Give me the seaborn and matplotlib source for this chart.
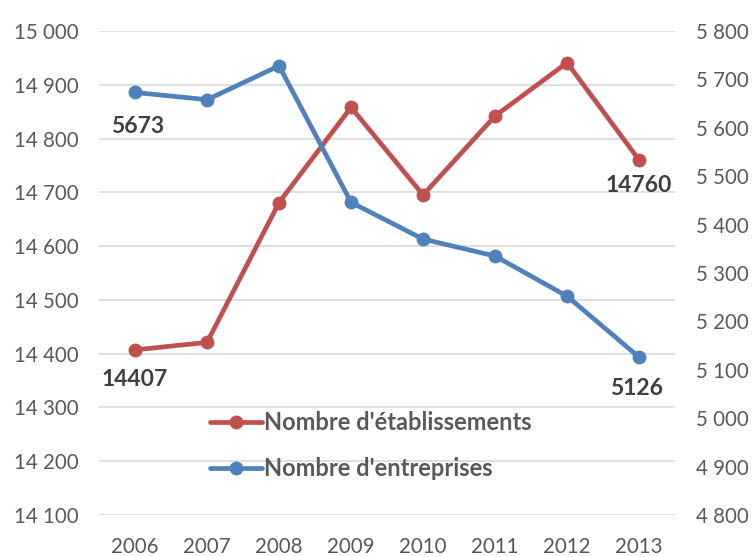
import matplotlib
matplotlib.use("Agg")
import matplotlib.pyplot as plt
import matplotlib.ticker as mticker
import seaborn as sns
import pandas as pd

years = [2006, 2007, 2008, 2009, 2010, 2011, 2012, 2013]
etablissements = [14407, 14421, 14681, 14858, 14695, 14842, 14941, 14760]
entreprises = [5673, 5658, 5728, 5446, 5370, 5335, 5252, 5126]

RED = "#C0504D"
BLUE = "#4F81BD"
GRID = "#D9D9D9"
TICK = "#595959"
LABEL = "#404040"

sns.set_theme(style="white")
plt.rcParams["font.family"] = ["Lato", "DejaVu Sans"]

df = pd.DataFrame({"idx": range(len(years)), "annee": years,
                   "etab": etablissements, "entr": entreprises})

fig = plt.figure(figsize=(7.56, 5.57), dpi=100)
ax = fig.add_axes([0.131, 0.0754, 0.762, 0.869])
ax2 = ax.twinx()

sns.lineplot(data=df, x="idx", y="etab", ax=ax, color=RED, linewidth=3.4,
             marker="o", markersize=10, markeredgewidth=0, zorder=3)
sns.lineplot(data=df, x="idx", y="entr", ax=ax2, color=BLUE, linewidth=3.4,
             marker="o", markersize=10, markeredgewidth=0, zorder=3)

ax.set_ylim(14100, 15000)
ax2.set_ylim(4800, 5800)
ax.set_xlim(-0.5, len(years) - 0.5)
ax.set_yticks(range(14100, 15001, 100))
ax2.set_yticks(range(4800, 5801, 100))

fmt = mticker.FuncFormatter(lambda v, p: f"{int(v):,}".replace(",", " "))
ax.yaxis.set_major_formatter(fmt)
ax2.yaxis.set_major_formatter(fmt)

ax.set_xticks(df["idx"])
ax.set_xticklabels(years)
for a in (ax, ax2):
    a.set_xlabel("")
    a.set_ylabel("")
    a.tick_params(length=0, labelsize=14.8, labelcolor=TICK)
    for s in a.spines.values():
        s.set_visible(False)
ax.tick_params(axis="y", pad=15)
ax2.tick_params(axis="y", pad=15)
ax.tick_params(axis="x", pad=16)
ax.grid(axis="y", color=GRID, linewidth=1.2)
ax.set_axisbelow(True)

# data labels on first and last points
lab = dict(fontsize=16.5, fontweight="bold", color=LABEL, ha="center", va="top",
           textcoords="offset points")
ax.annotate(f"{etablissements[0]}", (0, etablissements[0]), xytext=(0, -14), **lab)
ax.annotate(f"{etablissements[-1]}", (7, etablissements[-1]), xytext=(0, -11), **lab)
ax2.annotate(f"{entreprises[0]}", (0, entreprises[0]), xytext=(2, -17), **lab)
ax2.annotate(f"{entreprises[-1]}", (7, entreprises[-1]), xytext=(-2, -15), **lab)

h1 = ax.get_lines()[0]
h2 = ax2.get_lines()[0]
leg = ax2.legend([h1, h2], ["Nombre d'établissements", "Nombre d'entreprises"],
                 loc="upper left", bbox_to_anchor=(0.155, 0.258), frameon=False,
                 handlelength=2.2, handletextpad=0.1, labelspacing=0.95,
                 prop={"size": 17, "weight": "bold"})
for t in leg.get_texts():
    t.set_color(TICK)

fig.savefig("out.png", dpi=100)
